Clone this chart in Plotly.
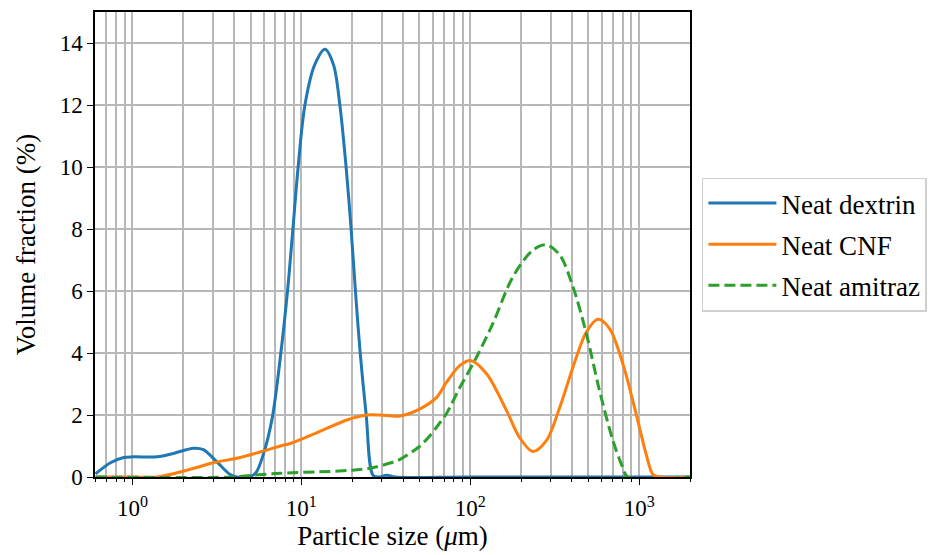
import plotly.graph_objects as go
import math

# ---------------- data ----------------
dextrin_size = [0.604, 0.741, 0.888, 1.018, 1.40, 1.75, 2.30, 2.63, 3.17, 3.79, 4.16, 4.98,
                5.40, 5.97, 6.72, 7.56, 8.28, 8.91, 9.57, 10.5, 12.0, 13.8, 15.5, 16.9,
                18.4, 19.7, 20.9, 22.3, 24.2, 26.6, 29.0, 32.0, 36.0, 100.0, 2000.0]
dextrin_vol = [0.10, 0.46, 0.63, 0.65, 0.65, 0.76, 0.93, 0.88, 0.48, 0.08, 0.0, 0.02,
               0.15, 0.75, 1.9, 4.0, 6.0, 8.0, 10.0, 12.0, 13.3, 13.8, 13.3, 12.0,
               10.0, 8.0, 6.0, 4.0, 2.0, 0.05, 0.0, 0.06, 0.0, 0.0, 0.0]

cnf_size = [0.604, 1.0, 1.40, 2.20, 3.02, 4.34, 5.97, 7.50, 8.59, 11.8, 18.6, 24.4, 29.2,
            38.4, 50.4, 63.2, 72.4, 86.8, 100.5, 124.9, 164, 196, 235, 282, 339, 406,
            487, 570, 668, 801, 961, 1102, 1206, 1320, 2000]
cnf_vol = [0.0, 0.0, 0.0, 0.25, 0.46, 0.63, 0.84, 1.0, 1.08, 1.38, 1.84, 2.0, 2.0,
           1.97, 2.2, 2.57, 3.06, 3.6, 3.76, 3.33, 2.14, 1.27, 0.82, 1.17, 2.25, 3.55,
           4.68, 5.09, 4.79, 3.65, 2.02, 0.72, 0.08, 0.0, 0.0]

amitraz_size = [0.604, 4.0, 5.0, 7.5, 14.8, 20.0, 25.5, 33.5, 38.4, 46.0, 50.4, 57.7,
                66.1, 72.4, 86.8, 109, 136, 179, 235, 282, 339, 406, 487, 583, 700,
                801, 857, 2000]
amitraz_vol = [0.0, 0.0, 0.05, 0.12, 0.18, 0.22, 0.28, 0.45, 0.57, 0.84, 1.0, 1.33,
               1.75, 2.05, 2.89, 3.87, 4.95, 6.46, 7.32, 7.49, 7.16, 6.13, 4.62, 2.78,
               1.17, 0.3, 0.0, 0.0]

series_names = ["Neat dextrin", "Neat CNF", "Neat amitraz"]
x_tick_vals = [1, 10, 100, 1000]
x_tick_text = ["10<sup>0</sup>", "10<sup>1</sup>", "10<sup>2</sup>", "10<sup>3</sup>"]
y_tick_vals = [0, 2, 4, 6, 8, 10, 12, 14]

# ---------------- figure ----------------
FONT = "Liberation Serif"
colors = ["#1f77b4", "#ff7f0e", "#2ca02c"]

fig = go.Figure()
for i, (xs, ys) in enumerate([(dextrin_size, dextrin_vol), (cnf_size, cnf_vol),
                              (amitraz_size, amitraz_vol)]):
    fig.add_trace(go.Scatter(
        x=xs, y=ys, mode="lines", name=series_names[i], legendgroup=str(i),
        line=dict(color=colors[i], width=3, shape="spline", smoothing=0.9,
                  dash="11px,5px" if i == 2 else "solid"),
    ))

minor_vals = [k * 10 ** d for d in range(-1, 4) for k in range(2, 10)]

fig.update_layout(
    width=942, height=555,
    margin=dict(l=95, r=252, t=12, b=78),
    paper_bgcolor="white", plot_bgcolor="white",
    font=dict(family=FONT, size=23, color="black"),
    showlegend=True,
    legend=dict(x=1.02, xanchor="left", y=0.50, yanchor="middle",
                bgcolor="white", bordercolor="#d0d0d0", borderwidth=1.5,
                font=dict(family=FONT, size=27), tracegroupgap=3, itemwidth=68),
    xaxis=dict(
        type="log", range=[math.log10(0.6), math.log10(2000)],
        tickmode="array", tickvals=x_tick_vals, ticktext=x_tick_text,
        ticks="outside", ticklen=6, tickwidth=1.3, tickcolor="black",
        ticklabelstandoff=4, automargin=False,
        showgrid=True, gridcolor="#b8b8b8", gridwidth=1.5,
        showline=True, linecolor="black", linewidth=1.5, mirror=True,
        zeroline=False,
        minor=dict(tickmode="array", tickvals=minor_vals, ticks="outside", ticklen=3.5,
                   tickwidth=1, tickcolor="black", showgrid=True,
                   gridcolor="#b8b8b8", gridwidth=1.5),
        title=dict(text="Particle size (<i>μ</i>m)", font=dict(size=27), standoff=6),
        tickfont=dict(size=23),
    ),
    yaxis=dict(
        range=[0, 15], tickmode="array", tickvals=y_tick_vals,
        ticks="outside", ticklen=6, tickwidth=1.3, tickcolor="black",
        automargin=False,
        showgrid=True, gridcolor="#b8b8b8", gridwidth=1.5,
        showline=True, linecolor="black", linewidth=1.5, mirror=True,
        zeroline=False,
        title=dict(text="Volume fraction (%)", font=dict(size=27), standoff=16),
        tickfont=dict(size=23),
    ),
)

fig.write_html("out.html")
